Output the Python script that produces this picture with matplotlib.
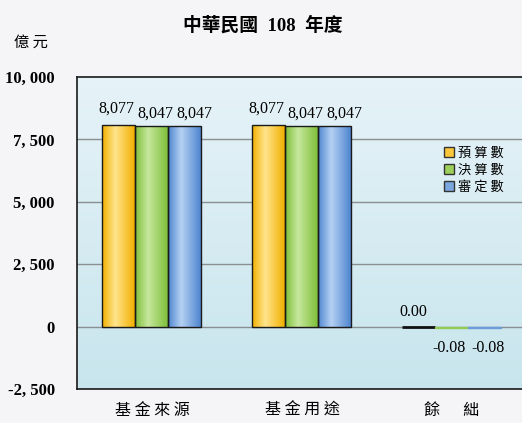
import numpy as np
import matplotlib
matplotlib.use("Agg")
import matplotlib.pyplot as plt
from matplotlib.colors import LinearSegmentedColormap
from matplotlib.patches import Patch

categories = ["基 金 來 源", "基 金 用 途", "餘　  絀"]
series_names = ["預 算 數", "決 算 數", "審 定 數"]
budget = [8077, 8077, 0.00]
final = [8047, 8047, -0.08]
audited = [8047, 8047, -0.08]
label_text = [["8,077", "8,047", "8,047"],
              ["8,077", "8,047", "8,047"],
              ["0.00", "-0.08", "-0.08"]]
yticks = [-2500, 0, 2500, 5000, 7500, 10000]
ytick_labels = ["-2, 500", "0", "2, 500", "5, 000", "7, 500", "10, 000"]

cjk = ["Noto Sans CJK TC", "DejaVu Sans"]
num_font = ["Liberation Serif", "DejaVu Serif"]

# edge / highlight colours for the cylinder-like bars
bar_styles = [("#f2b000", "#ffe48c"), ("#7fbf3a", "#c6e79c"), ("#4f86d0", "#b4d0f2")]
legend_colors = ["#fbc63a", "#9dd05a", "#7ba7e0"]

fig = plt.figure(figsize=(5.22, 4.23), dpi=100)
fig.patch.set_facecolor("#f5f5f8")
ax = fig.add_axes([77 / 522, 34 / 423, 450 / 522, 312 / 423])

ax.set_xlim(-0.5, 2.5)
ax.set_ylim(-2500, 10000)

# plot-area gradient, light at the top
grad = np.linspace(0, 1, 256).reshape(-1, 1)
bg_cmap = LinearSegmentedColormap.from_list("bg", ["#e6f3f8", "#c8e5ed"])
ax.imshow(grad, extent=(-0.5, 2.5, -2500, 10000), aspect="auto", cmap=bg_cmap,
          origin="upper", zorder=0)

for y in [2500, 5000, 7500, 0]:
    ax.axhline(y, color="#8a8f92", lw=1, zorder=1)

x = np.arange(len(categories))
width = 0.22
all_series = [budget, final, audited]
xgrad = np.array([np.interp(np.linspace(0, 1, 64), [0, 0.4, 1], [0, 1, 0])])
for i, vals in enumerate(all_series):
    dark, light = bar_styles[i]
    cmap = LinearSegmentedColormap.from_list("b%d" % i, [dark, light])
    pos = x + (i - 1) * width
    for p, v in zip(pos, vals):
        if abs(v) > 1:
            b = ax.bar(p, v, width, facecolor="none", edgecolor="#1a1a1a", lw=1, zorder=3)[0]
            im = ax.imshow(xgrad, extent=(b.get_x(), b.get_x() + width, 0, v), aspect="auto",
                           cmap=cmap, zorder=2)
            im.set_clip_path(b)
        elif v == 0:
            ax.bar(p, 0, width, edgecolor="#111111", lw=2, zorder=3)
        else:
            # tiny negative value: draw a thin visible sliver
            ax.bar(p, -60, width, color=dark, edgecolor=cmap(0.3), lw=1, zorder=3)

# value labels, nudged sideways a little so neighbours don't collide
nudge = [-0.02, 0.02, 0.06]
for j in range(len(categories)):
    for i, vals in enumerate(all_series):
        v = vals[j]
        pos = x[j] + (i - 1) * width
        if j < 2:
            yy = v + 330 if i == 0 else v + 150
            ax.text(pos + nudge[i], yy, label_text[j][i], ha="center", va="bottom",
                    fontsize=11.5, family=num_font, zorder=5)
        elif v < 0:
            ax.text(pos + (-0.02 if i == 1 else 0.02), -540, label_text[j][i],
                    ha="center", va="top", fontsize=11.5, family=num_font, zorder=5)
        else:
            ax.text(pos - 0.035, 260, label_text[j][i], ha="center", va="bottom",
                    fontsize=11.5, family=num_font, zorder=5)

ax.set_yticks(yticks)
ax.set_yticklabels(ytick_labels, fontsize=12, family=num_font, fontweight="bold")
ax.set_xticks(x)
ax.set_xticklabels(categories, fontsize=11.5, family=cjk)
ax.tick_params(axis="both", length=0)
ax.tick_params(axis="x", pad=9)
ax.tick_params(axis="y", pad=16)
for s in ["left", "bottom", "top"]:
    ax.spines[s].set_color("#1a1a1a")
    ax.spines[s].set_linewidth(1.2)
ax.spines["right"].set_visible(False)

handles = [Patch(facecolor=c, edgecolor="#333333", lw=1) for c in legend_colors]
leg = ax.legend(handles, series_names, loc="upper left", bbox_to_anchor=(0.79, 0.815),
                frameon=False, prop={"family": cjk, "size": 9.5},
                handlelength=0.7, handleheight=0.7, handletextpad=0.3, labelspacing=0.3)

fig.text(263 / 522, 1 - 25 / 423, "中華民國  108  年度", ha="center", va="center",
         fontsize=13.5, fontweight="bold", family=["Liberation Serif", "Noto Sans CJK TC"])
fig.text(31 / 522, 1 - 42 / 423, "億 元", ha="center", va="center", fontsize=11, family=cjk)

fig.savefig("out.png", dpi=100, facecolor=fig.get_facecolor())
